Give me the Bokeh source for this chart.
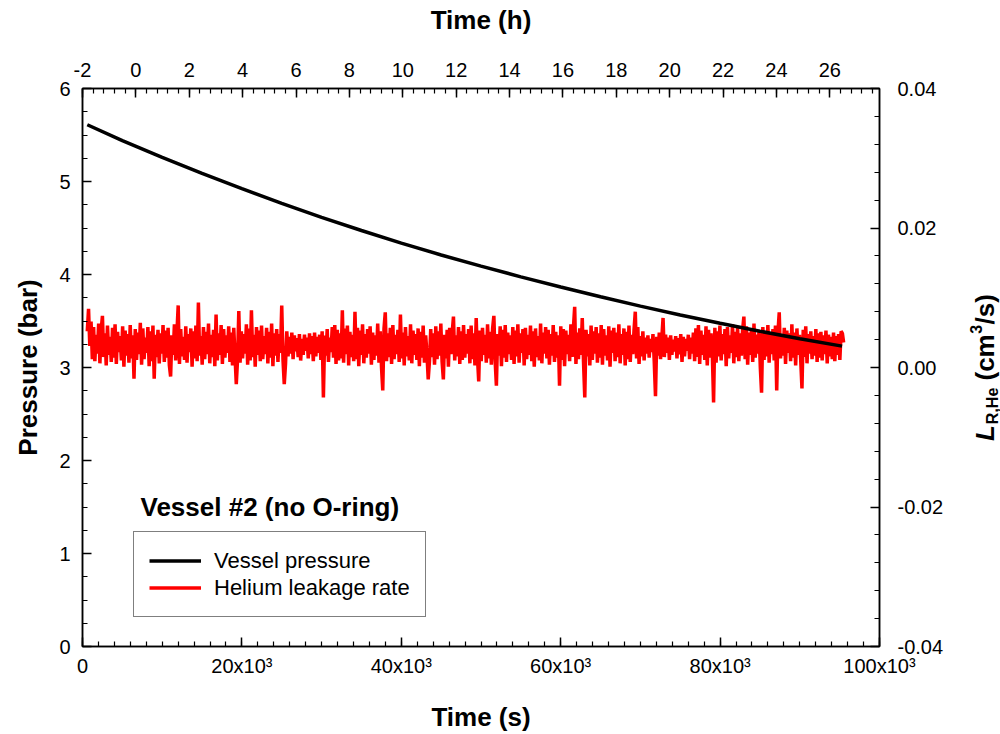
import numpy as np
from math import pi
from bokeh.plotting import figure
from bokeh.layouts import row
from bokeh.models import (Range1d, LinearAxis, SingleIntervalTicker, CustomJSTickFormatter,
                          Legend, LegendItem, Label)
from bokeh.embed import file_html
from bokeh.resources import INLINE

# ---------------- data ----------------
# vessel pressure, bar, against time in s
pressure_t = [600, 5000, 10000, 15000, 20000, 25000, 30000, 35000, 40000, 45000, 50000,
              55000, 60000, 65000, 70000, 75000, 80000, 85000, 90000, 95300]
pressure_bar = [5.61, 5.44, 5.26, 5.088, 4.923, 4.765, 4.615, 4.473, 4.338, 4.21, 4.09,
                3.975, 3.865, 3.76, 3.66, 3.565, 3.475, 3.39, 3.31, 3.23]

# helium leakage rate, in units of 1e-4 cm^3/s, sampled evenly from t_first to t_last
leak_rate_e4 = [
    52, 84, 31, 66, 12, 58, 9, 47, 20, 63, 6, 54, 74, 15, 49, 3, 60, 18, 44, 8,
    57, 14, 62, 5, 51, 22, 45, 10, 59, 1, 53, 17, 48, 7, 61, 13, 46, -16, 55, 11,
    50, 19, 64, 4, 56, 12, 43, 21, 58, 2, 52, 9, 60, -16, 47, 15, 54, 6, 49, 20,
    61, 8, 53, 14, 57, 3, -13, 46, 18, 62, 10, 50, 89, 5, 55, 16, 44, 11, 59, 7,
    48, 22, 56, 1, 52, 13, 60, 9, 93, 17, 45, 4, 58, 12, 51, 19, 63, 6, 47, 15,
    54, 2, 76, 10, 49, 18, 61, 5, 55, 14, 46, 21, 59, 8, 50, 3, 57, 16, -24, 11,
    81, 7, 52, 13, 48, 20, 62, 4, 56, 10, 82, 15, 47, 1, 58, 18, 53, 9, 60, 12,
    45, 19, 57, 6, 51, 14, 63, 2, 49, 17, 55, 8, 48, 21, 89, 11, -24, 5, 52, 16,
    44, 20, 50, 12, 46, 23, 42, 15, 48, 10, 41, 18, 47, 24, 43, 13, 49, 19, 45, 9,
    50, 16, 44, 21, 47, 11, 52, -43, 46, 17, 55, 8, 43, 22, 58, 14, 61, 5, 54, 10,
    49, 13, 82, 7, 56, 19, 60, 3, 51, 15, 47, 9, 80, 12, 57, 2, 53, 18, 62, 6,
    48, 14, 55, 20, 59, 4, 50, 11, 46, 17, 63, 7, 52, 1, -33, 56, 79, 9, 49, 15,
    57, 5, 61, 12, 47, 19, 54, 8, 76, 13, 50, 3, 58, 16, 45, 10, 62, 6, 53, 18,
    48, 11, 56, 2, 51, 14, 60, 7, 46, 20, -17, 9, 55, 15, 49, 4, 59, 12, 52, 17,
    63, 8, -17, 47, 13, 54, 1, 57, 19, 50, 73, 10, 46, 16, 58, 5, 52, 11, 61, 14,
    48, 20, 55, 6, 60, 12, 49, 3, 71, 15, -20, 53, 9, 57, 18, 47, 7, 62, 13, 51,
    4, 56, 74, 10, -26, 48, 17, 59, 2, 54, 14, 61, 8, 50, 19, 46, 11, 58, 5, 53,
    16, 62, 7, 49, 21, 55, 3, 57, 12, 47, 18, 60, 9, 52, 1, 56, 15, 45, 10, 63,
    6, 50, 20, 58, 13, 54, 4, 48, 17, 61, 8, 51, 14, 46, -26, 59, 11, 55, 2, 53,
    19, 47, 9, 62, 15, 57, 87, 5, 50, 12, 56, 18, 71, 8, -43, 54, 16, 48, 3, 60,
    11, 52, 20, 58, 7, 49, 14, 61, 4, 55, 17, 46, 10, 59, 1, 53, 21, 57, 9, 50,
    15, 62, 6, 48, 18, 56, 3, 51, 12, 60, 8, 47, 19, 54, 80, 13, 58, 5, 45, 16,
    52, 10, 43, 20, 46, 14, 41, 22, 48, 9, -41, 44, 17, 50, 12, 42, 71, 15, 47, 21,
    43, 11, 46, 18, 40, 23, 45, 13, 42, 19, 48, 8, 44, 16, 41, 24, 47, 12, 43, 20,
    50, 9, 56, 15, 61, 5, 53, 18, 47, 11, 59, 3, 54, 14, 49, 20, -50, 57, 7, 52,
    16, 60, 10, 48, 19, 55, 2, 58, 13, 46, 21, 62, 6, 51, 15, 57, 9, 49, 17, 54,
    73, 12, 59, 4, 50, 18, 56, 8, 63, 14, 47, 20, 53, 1, -36, 58, 11, 52, 16, 61,
    7, 48, 19, 55, 10, 60, -33, 51, 79, 13, 46, 17, 57, 5, 53, 21, 49, 9, 62, 14,
    50, 3, 56, 18, 47, 11, -30, 54, 15, 59, 6, 48, 20, 52, 12, 45, 17, 55, 8, 49,
    14, 51, 10, 46, 19, 53, 6, 47, 16, 44, 12, 50, 9, 45, 18, 48, 11, 52, 49, 36,
]
leak_t_first = 600
leak_t_last = 95500
leak_t = np.linspace(leak_t_first, leak_t_last, len(leak_rate_e4))

time_s_range = (0, 100000)
pressure_range = (0, 6)
hours_range = (-2, 27.86)
leak_range_e4 = (-400, 400)

FONT = "Liberation Sans"
TICK_SIZE = "20px"
TITLE_SIZE = "26px"
LEGEND_SIZE = "22px"

FRAME_TOP, FRAME_BOTTOM = 88, 646

# ---------------- main figure ----------------
W_MAIN = 960
p = figure(width=W_MAIN, height=734,
           x_range=Range1d(*time_s_range), y_range=Range1d(*pressure_range),
           output_backend="svg", toolbar_location=None,
           min_border_left=82, min_border_right=W_MAIN - 879,
           min_border_top=FRAME_TOP, min_border_bottom=734 - FRAME_BOTTOM,
           outline_line_color="black", outline_line_width=1.5,
           background_fill_color="white", border_fill_color="white",
           x_axis_label="Time (s)", y_axis_label="Pressure (bar)")
p.grid.visible = False
p.extra_x_ranges = {"hours": Range1d(*hours_range)}
p.extra_y_ranges = {"leak": Range1d(*leak_range_e4)}


def style_axis(ax):
    ax.axis_line_width = 1.5
    ax.axis_line_color = "black"
    ax.major_tick_in = 9
    ax.major_tick_out = 0
    ax.minor_tick_in = 5
    ax.minor_tick_out = 0
    ax.major_tick_line_width = 1.5
    ax.minor_tick_line_width = 1.2
    ax.major_tick_line_color = "black"
    ax.minor_tick_line_color = "black"
    ax.major_label_text_font = FONT
    ax.major_label_text_font_size = TICK_SIZE
    ax.major_label_text_color = "black"
    ax.axis_label_text_font = FONT
    ax.axis_label_text_font_style = "bold"
    ax.axis_label_text_font_size = TITLE_SIZE
    ax.axis_label_text_color = "black"


# bottom axis (s)
xa = p.xaxis[0]
xa.ticker = SingleIntervalTicker(interval=20000, num_minor_ticks=10)
xa.formatter = CustomJSTickFormatter(
    code="return tick == 0 ? '0' : (tick/1000).toFixed(0) + 'x10\u00b3';")
style_axis(xa)
xa.major_label_standoff = 8
xa.axis_label_standoff = 22

# left axis (bar)
ya = p.yaxis[0]
ya.ticker = SingleIntervalTicker(interval=1, num_minor_ticks=4)
style_axis(ya)
ya.major_label_standoff = 12
ya.axis_label_standoff = 13

# top axis (h)
ta = LinearAxis(x_range_name="hours", axis_label="Time (h)",
                ticker=SingleIntervalTicker(interval=2, num_minor_ticks=5),
                formatter=CustomJSTickFormatter(code="return tick.toFixed(0);"))
style_axis(ta)
ta.major_label_standoff = 12
ta.axis_label_standoff = 25
p.add_layout(ta, "above")

# right axis (cm^3/s)
ra = LinearAxis(y_range_name="leak",
                ticker=SingleIntervalTicker(interval=200, num_minor_ticks=5),
                formatter=CustomJSTickFormatter(code="return (tick/10000).toFixed(2);"))
style_axis(ra)
ra.major_label_standoff = 18
p.add_layout(ra, "right")

# ---------------- data lines ----------------
r_leak = p.line(leak_t, leak_rate_e4, y_range_name="leak",
                line_color="#ff0000", line_width=3.5)
r_press = p.line(pressure_t, pressure_bar, line_color="black", line_width=3.5)

legend = Legend(items=[LegendItem(label="Vessel pressure", renderers=[r_press]),
                       LegendItem(label="Helium leakage rate", renderers=[r_leak])],
                location=(51, 29), margin=0, padding=15, spacing=0,
                label_standoff=13, glyph_width=52, glyph_height=27, label_height=27,
                label_text_font=FONT, label_text_font_size=LEGEND_SIZE,
                label_text_color="black", label_text_baseline="middle",
                border_line_color="black", border_line_width=1.5,
                background_fill_color="white", background_fill_alpha=1.0)
p.add_layout(legend)


def sx(px):
    return (px - 82) / 797 * (time_s_range[1] - time_s_range[0])


def sy(py):
    return (FRAME_BOTTOM - py) / (FRAME_BOTTOM - FRAME_TOP) * (pressure_range[1] - pressure_range[0])


p.add_layout(Label(x=sx(140), y=sy(506), text="Vessel #2 (no O-ring)",
                   text_font=FONT, text_font_style="bold", text_font_size=TITLE_SIZE,
                   text_baseline="middle", text_align="left", text_color="black"))

# ---------------- right strip holding the right axis title ----------------
# (its frame is aligned with the main frame by the row layout, so its y range is
#  set so that data y equals the canvas pixel row)
W_STRIP = 1000 - W_MAIN
q = figure(width=W_STRIP, height=734, x_range=Range1d(0, W_STRIP),
           y_range=Range1d(FRAME_BOTTOM, FRAME_TOP),
           output_backend="svg", toolbar_location=None,
           min_border=0, min_border_left=0, min_border_right=0,
           min_border_top=FRAME_TOP, min_border_bottom=734 - FRAME_BOTTOM,
           x_axis_location=None, y_axis_location=None,
           outline_line_color=None, background_fill_color="white",
           border_fill_color="white")
q.grid.visible = False

# L_{R,He} (cm^3/s), rotated to read upwards; (canvas x, canvas y) of each piece's centre
pieces = [
    ("L", 984, 432.5, "26px", "bold italic"),
    ("R,He", 992, 405.4, "16px", "bold"),
    ("(cm", 984, 356.9, "26px", "bold"),
    ("3", 975, 328.9, "16px", "bold"),
    ("/s)", 984, 308.8, "26px", "bold"),
]
for txt, bx, by, fs, st in pieces:
    q.add_layout(Label(x=bx - W_MAIN, y=by, text=txt, angle=pi / 2, angle_units="rad",
                       text_font=FONT, text_font_style=st, text_font_size=fs,
                       text_align="center", text_baseline="middle", text_color="black"))

layout = row(p, q, spacing=0)
open("out.html", "w").write(file_html(layout, INLINE))
